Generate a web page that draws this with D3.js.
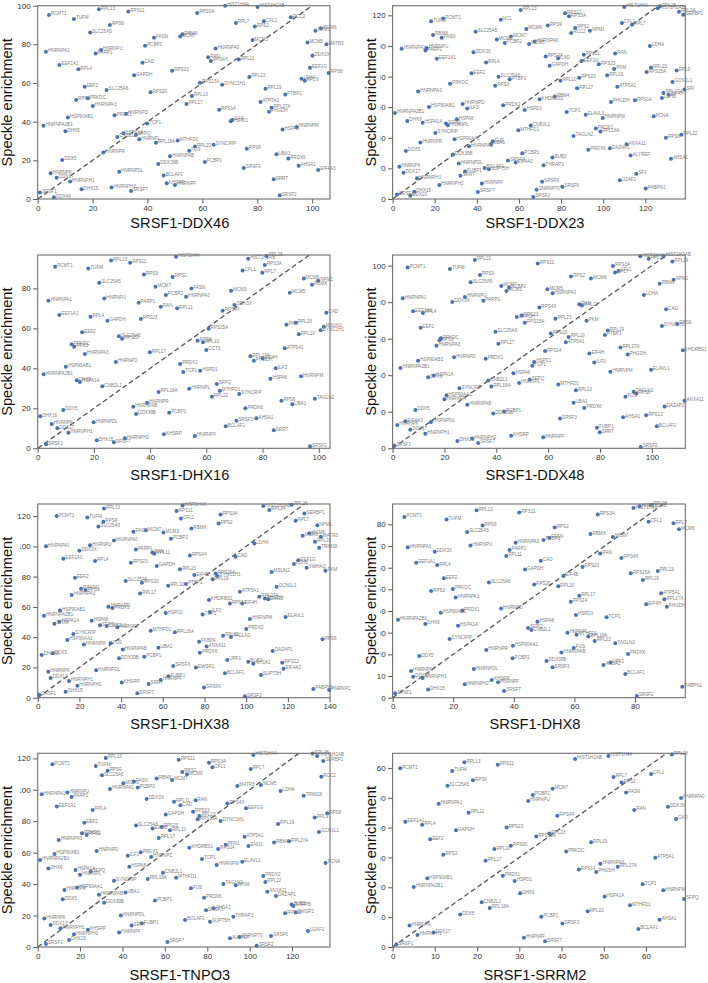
<!DOCTYPE html>
<html>
<head>
<meta charset="utf-8">
<script src="https://cdn.jsdelivr.net/npm/d3@7"></script>
<style>
  body { margin: 0; background: #fff; }
  svg { display: block; }
  text { font-family: "Liberation Sans", Arial, sans-serif; }
</style>
</head>
<body>
<div id="chart"></div>
<script>

// panel titles and axis limits
const panelTitles = ["SRSF1-DDX46", "SRSF1-DDX23", "SRSF1-DHX16", "SRSF1-DDX48",
                     "SRSF1-DHX38", "SRSF1-DHX8", "SRSF1-TNPO3", "SRSF1-SRRM2"];
const xMax = [106.5, 139, 104, 112.9, 140.2, 96.6, 137.9, 69.3];
const yMax = [100, 126.3, 96.7, 105.8, 128, 89.4, 123.2, 64.9];
const xTickStep = [20, 20, 20, 20, 20, 20, 20, 10];
const yTickStep = [20, 20, 20, 20, 20, 10, 20, 10];

// [protein, x enrichment, speckle enrichment]
const ddx46 = [["PCMT1",4.1,95.2],["RPL13",22.3,98.1],["RPS11",33,97],["HIST1H4A",68.3,100],["HIST1H2AB",80.1,99.3],["TUFM",13.2,93.1],["RPS9",26.3,90],["RPS3A",58.1,96.2],["RPL7",72.2,91],["CFL1",82.4,92],["RPS2",79.1,89.3],["RCC2",92.2,94],["SLC25A5",19.1,86.2],["NPM1",101.2,87],["MCM6",103.2,88.3],["FASN",42.4,83.4],["RBMX",52.8,85.2],["MCM7",51.9,84.1],["MCM3",78.3,82.2],["MCM5",98.3,81],["MATR3",105.2,80],["HNRNPA1",3,76.2],["HNRNPU",23.1,77.1],["PARP1",21.1,75.3],["PCBP2",39.1,79.3],["HNRNPA0",64.8,77.9],["DDX3X",100.1,74.1],["RAN",62.1,73.3],["RPS4X",63.1,71.4],["RPL11",73.3,72.2],["EEF1A1",7.9,69.3],["CAD",38.2,70.5],["RPL4",14.8,67.1],["EEF1G",99.2,67.9],["RPS8",106,65.2],["GAPDH",35.1,64],["RPS23",49,66.4],["RPL23",77.1,63.1],["LDHA",96.1,62.2],["RPL9",97.3,61.2],["EEF2",17.1,58.1],["RPS15A",59.1,60.2],["DYNC1H1",67.2,59.1],["SLC25A6",25.1,56.4],["RPS20",41.1,55.2],["RPL19",83,57.1],["RPS3",14,51.2],["PRKDC",18.2,52.1],["RPL10",56.2,53.3],["PTBP1",90.2,54],["HNRNPA3",20.1,48.1],["RPL17",54.2,49.1],["ATP5A1",81.2,50.2],["RPL27A",85.2,47.2],["PHGDH",84.3,45.2],["RPS14",66.1,46.2],["PRDX1",28,43.3],["HNRNPD",32.2,44.1],["HSP90AB1",11,42.2],["TCP1",39.9,39.1],["ILF3",70.9,40.9],["HSPD1",70.3,40.2],["HNRNPA2B1",2.1,37.9],["DHX9",10.1,35],["HSPA8",89.2,36],["HNRNPM",94.3,37.2],["HSPA1A",31.2,34],["CNB2L1",29,32.1],["SFPQ",35.8,33.1],["HNRNPL",37,30.9],["RPL18A",43.1,29.1],["MTHFD1",51,30.3],["RPL22",57.3,27.1],["SYNCRIP",64.1,28.1],["FUS",55.2,25],["RPS6",76.2,26],["HNRNPR",23.9,24.1],["HNRNPAB",48.2,22.1],["UBA1",87,23.1],["PRDX6",91.3,21],["DDX5",8.9,20.2],["DDX39B",43.9,18.1],["PCBP1",60.9,19.1],["SRSF3",75.1,16],["AHSA1",95.1,17.2],["EIF4A3",102.2,15],["HNRNPK",4.7,13.3],["DDX17",6.9,11],["HNRNPH1",11.8,9],["HNRNPDL",29.7,14.1],["BCLAF1",45.9,12.1],["KHSRP",47,8.1],["HNRNPF",50,7.2],["SRRT",86,10.2],["DHX15",16,5],["HNRNPH2",26.9,6],["SRSF7",34,4.1],["SRSF1",0.8,3.3],["DDX46",5.9,0.9],["SRSF2",88.2,1.9]];

const ddx23 = [["RPL13",60.8,123.5],["HIST1H4A",110,125.4],["RPL28",127,126],["HIST1H2AB",125.9,124.6],["RPL24",136,122.4],["SERBP1",138,120.4],["TUFM",18.3,116.1],["PCMT1",24,118],["NCL",51.4,117.2],["RPS11",81.9,121.3],["RPS3A",83.8,119.4],["CFL1",108.9,115],["RPL7",113.7,113.9],["SLC25A5",39.4,109.2],["MCM6",63.5,111.1],["RPS9",73.7,113.3],["RPS2",86.7,111.8],["RCC2",84.8,108.5],["NPM1",93.7,110],["RBMX",19.2,107.2],["FASN",23.3,105.3],["MCM7",56.2,106.1],["MCM3",49.5,104.2],["PCBP2",53.3,102],["MCM5",64.8,101.3],["HNRNPA0",67.5,102.9],["HNRNPA1",4.3,98.1],["HNRNPU",16.2,98.7],["PARP1",15.6,97],["LDHA",122.2,100],["DDX3X",38.4,95.9],["RPS4X",72.7,93.1],["CAD",78.6,92],["RPL11",90.8,94.2],["EEF1G",89.7,90.1],["RAN",105.7,95],["EEF1A1",21,91.6],["RPL4",44.4,89.2],["GAPDH",74.6,87],["RPS23",97.9,88.1],["PKM",105.2,84.9],["RPL23",122.7,85.9],["RPS15A",120.6,82.9],["RPL9",134.9,84],["EEF2",37.5,82.2],["SLC25A6",50.3,79.9],["PTBP1",55.6,78.3],["RPS20",88.6,79.2],["RPL10",79.7,77.3],["RPL19",101.9,80.9],["GCN1L1",132.9,76.4],["PRKDC",27.3,75.3],["RPS3",48.7,74],["RPL17",87.6,72.3],["ATP5A1",106.7,73.4],["HNRNPA3",12.1,70.3],["SRI",138.6,71.6],["RPL27A",128.6,69.2],["EIF4H",131,68.1],["LDHB",127.9,66],["RBM4",77,67],["KHDRBS1",69.8,65.1],["RPS14",115.1,64.5],["PHGDH",103.7,63.4],["HSP90AB1",17.3,60.1],["HNRNPD",33.3,62.1],["ILF3",35.4,59.2],["PRDX1",52.5,61.2],["HSPD1",62.7,58.2],["TCP1",82.7,56.9],["HNRNPA2B1",1.1,56.2],["ELAVL1",91.7,55.1],["PCNA",124,54],["HNRNPM",99.8,53],["DHX9",7,51],["HSPA1A",14.3,49.9],["HSPA8",30.5,52.1],["HNRNPL",26.2,48.2],["SFPQ",25.4,49.3],["CNB2L1",65.6,48],["MTHFD1",59.7,44.9],["PRDX2",96.5,46],["RPL18A",98.7,44.1],["TAGLN2",85.9,41.2],["RPS6",129.8,40.1],["RPL22",137.1,41.9],["SYNCRIP",20.3,43.2],["HNRNPR",13.2,36.9],["HSP90AA1",29.4,39.1],["FUS",47.6,37.8],["UBA1",46.8,35.9],["HNRNPAB",36.3,34.5],["DDX5",6.3,31.3],["DDX39B",28.6,29.1],["PCBP1",61.6,29.9],["PRDX6",92.9,32.1],["DAZAP1",103.2,33.2],["ANXA11",111.1,35.8],["SRSF3",54.8,25.2],["EIF4A3",58.4,23.9],["BUB3",75.9,27.1],["THRAP3",71.7,22.1],["ALYREF",113,28.4],["AHSA1",132.2,26.3],["HNRNPK",3.2,21],["DDX17",5.2,17.1],["HNRNPH1",11.6,13.5],["HNRNPDL",31.4,23.2],["FUBP1",34.4,18],["SRRT",32.2,15.2],["BCLAF1",43.7,20.2],["SUPT5H",45.7,19.5],["SF1",115.7,16.5],["U2AF2",107.9,12.2],["HNRNPH2",22.2,9.1],["HNRNPF",42.4,10.2],["SRSF9",71,11.3],["SNRNP70",68.4,6.1],["SRSF6",80.6,8],["PABPN1",120.2,6.9],["SRSF7",40.5,4.6],["SRSF2",66.8,1.3],["SRSF1",2.1,3],["DHX15",10.3,4.8],["DDX23",8.4,2.2]];

const dhx16 = [["PCMT1",6.2,90.8],["RPL13",26.1,94],["RPS11",32.9,92.8],["HIST1H4A",49.2,95.8],["HIST1H2AB",74.9,94.8],["RPL28",81.4,96.2],["RPS3A",80.8,91.7],["TUFM",18,90],["RPS9",37.8,87],["RPS2",48,85.7],["CFL1",72.9,89],["RPL7",79.9,87.8],["MCM6",94.7,85],["NPM1",99.8,83.8],["RBMX",97.6,81.8],["SLC25A5",21.9,82.8],["MCM7",41.9,80.8],["FASN",54.7,80],["HNRNPA1",3.8,73.8],["HNRNPU",23.7,75],["PCBP2",45.6,76.7],["HNRNPA0",52.8,75.8],["MCM3",68.8,78.8],["MCM5",89.7,77.8],["PARP1",35.9,72.8],["RAN",43.8,70.8],["RPL11",49.6,70],["DDX3X",70,71.7],["RPS4X",65.8,68.8],["EEF1A1",7.7,66.7],["RPL4",18.8,65.8],["GAPDH",24.8,63.8],["RPS23",36.7,64.7],["CAD",102.7,67.8],["PKM",88.5,61.8],["RPL23",91.8,62.8],["MSUN2",101.8,60.8],["DYNC1H1",100.7,59],["RPL19",92.9,57],["RPS15A",60.8,59.8],["EEF2",15.8,58],["SLC25A6",28.9,56],["RPS20",30,54.8],["RPS8",56.9,53.8],["RPL10",58.8,53],["CCT3",60,49.2],["ATP5A1",87.9,50],["PRKDC",12.1,52],["RPS3",13,50.8],["HNRNPA3",16.8,47.2],["RPL17",39.9,48],["RPL27A",75.7,46],["EIF4H",80,45],["PHGDH",76.9,43.8],["HSP90AB1",10,40.8],["HNRNPD",27.8,43.2],["PRDX1",50.7,42.2],["TCP1",51.8,38.2],["HSPD1",57.8,38.8],["ILF3",84.7,40],["HNRNPM",93.7,36],["HNRNPA2B1",2.1,37],["DHX9",13.9,34],["HSPA1A",15,33.2],["CNB2L1",23,31],["HSPA8",82.8,34.8],["SFPQ",63.7,32.2],["HNRNPL",53.9,29.8],["MTHFD1",64.8,28.8],["SYNCRIP",71.7,27.2],["RPL18A",43,28.2],["RPL22",62,25.8],["HNRNPR",38.9,22.8],["HNRNPAB",34,20.8],["RPS6",86.7,23.8],["UBA1",90.6,22],["TAGLN2",98.6,24.8],["PRDX6",73.9,20],["DHX16",0.9,16],["DDX5",9.1,19.2],["DDX39B",35,17.2],["PCBP1",46.8,17.8],["SRSF3",70.7,13.8],["AHSA1",77.8,15],["HNRNPK",5,12.2],["DDX17",7,10],["HNRNPH1",10.9,7.8],["HNRNPDL",19.9,13],["BCLAF1",66.9,11],["SRRT",84,9],["KHSRP",44.9,7],["HNRNPF",55.9,6.2],["DHX15",21,4],["SRSF7",27.1,3],["HNRNPH2",31,5],["SRSF1",3,2],["SRSF2",96.9,1]];

const ddx48 = [["PCMT1",5.8,98.9],["RPL13",31.7,103.1],["RPS11",56,101.1],["HIST1H4A",95.5,105.1],["RPL28",98.8,103.8],["HIST1H2AB",104.6,105.3],["RPL24",107.9,102.2],["TUFM",22.1,98.2],["RPS9",33.7,94.9],["SLC25A5",30.1,90.9],["RPS2",68.8,94.1],["MCM6",76.5,93],["RPS3A",85,99.8],["CFL1",87.1,97.1],["RPL7",85.8,96.2],["RBMX",103,90.1],["NPM1",108.4,92.3],["MCM7",41.9,88.8],["PCBP2",44.9,87.9],["MCM3",43.9,86.1],["MCM5",59.7,87],["HNRNPA0",61.7,84.8],["LDHA",96.9,83.9],["HNRNPA1",3.9,82.1],["HNRNPU",27.9,82.8],["DDX3X",23,80.1],["PARP1",35,80.8],["RPS4X",56.6,77],["RAN",72,78.8],["RPL11",73,78.1],["CAD",105.5,76.1],["EEF1A1",7.9,75],["RPL4",11.7,74],["RPS23",49.8,72.8],["GAPDH",47.9,71.8],["RPL23",62.8,70.9],["RPS15A",51,68.7],["PKM",74.8,69.8],["DYNC1H1",103.9,66.9],["RPS8",109.8,68],["EEF2",10.8,66],["RPL19",83,64.5],["PTBP1",81.9,62],["SLC25A6",39.7,63.8],["RPS20",61,62.9],["RPL10",67.9,60.9],["ATP5A1",66.8,58],["PRKDC",18.6,60.3],["RPS3",18.1,59.2],["HNRNPA3",16.9,56.1],["RPL17",40.8,57.2],["RPL27A",87.9,55.2],["KHDRBS1",112,53.7],["HSP90AB1",9.8,47.9],["HNRNPD",23.7,49.9],["PRDX1",35.9,49],["RPS14",58.8,53.2],["EIF4H",75.9,51.9],["PHGDH",90.7,51.4],["ILF3",77.8,47],["HNRNPA2B1",3,43.9],["HSPD1",54.6,47.2],["TCP1",53.9,45.2],["HSPA8",46.6,41.1],["HNRNPM",84,41.9],["ELAVL1",99.7,43],["DHX9",13.7,38.9],["HSPA1A",15.9,39.9],["SFPQ",52.9,37.7],["HNRNPL",48.8,35.8],["CNB2L1",36.9,37.1],["RPL18A",38.1,33.8],["MTHFD1",63.9,34.9],["SYNCRIP",25.8,32.9],["RPL22",70.7,31.8],["TAGLN2",93,30.9],["RPS6",94,30],["FUS",89.8,28.2],["ANXA11",112.6,26],["HSP90AA1",20.8,29.1],["HNRNPR",20,26.9],["HNRNPAB",28.8,23.8],["UBA1",69.8,24.9],["PRDX6",73.9,22.1],["DAZAP1",104.9,22.9],["DDX5",8.8,21],["DDX39B",38.8,19],["PCBP1",43,20.1],["SRSF3",64.6,16.3],["AHSA1",88.9,17],["RPS12",97.8,18.1],["BCLAF1",101.9,12.1],["HNRNPK",1.8,12.8],["EIF4A3",4.9,14.8],["HNRNPDL",14.8,14.4],["DDX17",6.8,10.1],["HNRNPH1",12.6,8],["FUBP1",78.8,11.2],["SRRT",79.9,8.8],["KHSRP",45.7,6.9],["HNRNPF",58.1,6],["DHX15",25,4],["HNRNPH2",30.7,5.3],["SRSF7",33,2.9],["SRSF1",0.6,1.6],["SRSF2",95.7,0.7]];

const dhx38 = [["PCMT1",9.1,120],["RPL13",31.8,125],["TUFM",23.8,119.1],["RPS9",31.5,116.2],["SLC25A5",29.1,113.2],["HIST1H4A",69.5,127],["RPS11",66.6,123.3],["CFL1",68.7,118.4],["RPS3A",87.7,121.1],["RPS2",86.8,115.1],["RBMX",73.7,111.8],["MCM7",51.9,110.7],["FASN",45.9,109.6],["MCM3",60.3,109.2],["PCBP2",63.9,105],["HNRNPA0",36.6,103.9],["HIST1H2AB",108.2,126.6],["RPL28",121.8,127.5],["RPL24",111.1,124],["SERBP1",127.9,121.8],["RPL7",123.7,116.9],["NPM1",134.1,114],["MCM5",127.1,107],["MCM6",130.3,108.6],["MATR3",135.8,106.3],["RPL21",133,103],["TRIM28",135,99.1],["LDHA",103.9,101.9],["HNRNPA1",4,100],["HNRNPU",25.1,100.8],["DDX3X",20,97.1],["PARP1",47.1,98],["RAN",55,96],["RPL11",55.9,95.1],["RPS4X",73,94],["CAD",94.9,93.1],["EEF1A1",12.3,91.8],["RPL4",27.5,90.3],["RPS23",44.7,89.2],["GAPDH",57.1,87],["RPL23",68.2,84.8],["EEF1G",125,90.9],["LDHB",122.9,88.3],["YWHAQ",129,85.9],["PKM",138,83.9],["EEF2",17.9,79.3],["MSUN2",112.2,83],["EIF4B",75.1,81],["RPS15A",85.3,82.1],["DYNC1H1",86.1,80.4],["RPL19",83.9,78.2],["SLC25A6",42.2,77.1],["RPS20",50,76],["RPL10",62.6,74],["PTBP1",71.1,75.1],["GCN1L1",114.6,73.3],["PRKDC",20.8,72],["RPS3",22.9,71.1],["HNRNPA3",16.3,67.8],["RPL17",49.1,68.9],["ATP5A1",97,70],["KHDRBS1",82.1,64.5],["RPS14",92.2,62.3],["EIF4H",98.1,62.3],["RPL27A",106.3,66.7],["PHGDH",109,65.6],["ENO1",110.6,65],["HNRNPD",33.9,60.1],["PRDX1",35.8,59.2],["HSP90AB1",10.7,57.7],["HSPD1",61.4,55.9],["TCP1",79.1,55],["ILF3",82.6,56.6],["HNRNPM",101.8,52],["ELAVL1",118.9,53.3],["HNRNPA2B1",3,54.2],["DHX9",8,48.9],["HSPA1A",10.4,50.2],["HSPA8",25.9,50.9],["SFPQ",29.9,47.8],["CNB2L1",33.1,47.3],["HNRNPL",38.2,46.5],["MTHFD1",54.2,44.3],["RPL18A",65.8,43.2],["PRDX2",100,45.4],["SYNCRIP",17.1,42.1],["HSP90AA1",14.2,38.1],["HNRNPR",22.2,35.2],["FUS",35,35.9],["FKBP4",77.4,37],["RPL22",88.9,41],["TAGLN2",92.7,40.1],["ANXA11",81,33.9],["RPS6",136.6,38.7],["DHX38",1.9,28.2],["DDX5",7.2,29.3],["HNRNPAB",40.8,31.9],["UBA1",57.9,33],["PRDX6",77.8,29.7],["DAZAP1",112.7,30.8],["DDX39B",39,26],["PCBP1",51.1,27.1],["SRSF3",65,20.9],["EWSR1",75.9,20],["UPF1",90.9,24.9],["BUB3",101,23.8],["AHSA1",103.4,22.5],["RPS12",117.3,23.1],["EIF4A3",117.9,19.2],["HNRNPK",5.1,17.2],["HNRNPDL",28,18.1],["DDX17",6.2,13],["BCLAF1",89.8,16.1],["SUPT5H",107.1,15],["HNRNPH1",15,11],["FUBP1",62.7,14.1],["HNRNPF",59,11.7],["SRRT",53.2,9],["KHSRP",40.3,10.1],["HNRNPH2",19,7.9],["DHX15",13.4,4],["SRSF6",79.8,6.8],["SRSF7",47.8,2.9],["SRSF1",0.8,2],["SRSF2",99.4,0.9],["PABPN1",132.2,5.7],["HNRNPC",139.8,5.1]];

const dhx8 = [["PCMT1",3.9,83.4],["RPL13",27.7,86.5],["RPS11",41.8,85.5],["RPS3A",67.7,84.6],["HIST1H4A",79.5,87.5],["HIST1H2AB",81.5,88.4],["RPL28",85.3,89],["TUFM",17.8,82.3],["CFL1",84.5,81.2],["RPL7",92.7,80.5],["MCM6",94.5,77.7],["RPS9",29.7,79.5],["SLC25A5",24.6,76.5],["RPS2",53.5,78.6],["RBMX",65.3,75.5],["MCM7",72.7,74.2],["FASN",51.7,73.8],["PCBP2",49.8,72.8],["HNRNPA0",40.6,71.5],["HNRNPA1",5,69.4],["HNRNPU",25.7,70.3],["PARP1",38.6,68.2],["DDX3X",13.9,67.4],["RAN",68.5,66.5],["RPL11",37.5,65.4],["RPS4X",75.5,64.5],["CAD",48.9,63.2],["EEF1A1",7.8,62.3],["RPL4",14.7,61.2],["GAPDH",43.7,59.2],["RPS23",62.7,60.3],["RPL23",87.5,58.5],["RPS15A",78.6,57.4],["EIF4B",56.4,56.2],["EEF2",16.9,55.1],["RPL19",82.6,54.3],["SLC25A6",31.8,53.2],["RPS20",46.7,52.3],["RPL10",54.7,51.4],["RPS3",12.7,49.2],["PRKDC",19.9,50.2],["ATP5A1",88.6,48.2],["RPL17",61.6,47.1],["HNRNPA3",20.8,46.3],["RPL27A",89.7,45.4],["RPS14",58.8,44.3],["EIF4H",83.7,43.1],["PHGDH",90.5,42],["HNRNPD",35.8,41.2],["PRDX1",23,40.2],["HSP90AB1",15.9,39.2],["HSPD1",60.5,38.2],["TCP1",70.6,37.1],["HNRNPA2B1",1.8,36],["HSPA8",47.8,35.1],["DHX9",10.8,34],["HSPA1A",21.6,33.2],["SFPQ",44.7,32.2],["CNB2L1",45.8,31.2],["HNRNPL",57.7,30],["MTHFD1",60.7,29.1],["RPL18A",64.6,28.2],["RPL22",66.7,26.2],["SYNCRIP",18.8,27.1],["TAGLN2",73.5,25.1],["HSP90AA1",39.7,24],["FUS",59.8,22.9],["HNRNPAB",55.7,20.9],["HNRNPR",30.9,22],["DDX5",8.8,19.2],["PRDX6",77.7,20.2],["PCBP1",39.6,18.2],["DDX39B",50.8,16.9],["SRSF3",52.8,14],["AHSA1",69.6,15.1],["UPF1",71.9,16.2],["BCLAF1",76.8,10.9],["HNRNPK",6.1,12.3],["DDX17",6.8,9.7],["HNRNPH1",9.9,9.1],["HNRNPDL",26.8,13.2],["HNRNPH2",23.8,6.2],["KHSRP",32.7,8.2],["HNRNPF",34.8,7.1],["DHX15",11.7,3.8],["SRSF7",36.8,3.1],["SRSF1",0.8,2],["SRSF2",80.6,0.8],["PABPN1",95.6,5.1]];

const tnpo3 = [["PCMT1",6.9,116.2],["RPL13",32.1,120.2],["TUFM",27.4,115.1],["RPS9",33,112.1],["SLC25A5",30.3,109.2],["RPS11",66.5,119.1],["RPS3A",80.8,117.2],["CFL1",82.4,114.3],["HIST1H4A",101.7,122.1],["RPL28",129.7,123],["HIST1H2AB",131.8,121.5],["SERBP1",134.7,118.3],["RPS2",68.2,111.3],["MCM6",70.4,109.8],["RPL7",100.5,113.2],["RCC2",133.8,108.3],["RBMX",56.1,107.1],["MCM7",63.4,106.2],["FASN",45.3,105.2],["MCM3",40.4,104.1],["PCBP2",47.2,101.5],["HNRNPA0",34.1,100.5],["MATR3",94.2,102.4],["MCM5",105.3,103],["LDHA",114.6,99.2],["TRIM28",125.5,96.2],["HNRNPA1",1.9,97.1],["HNRNPU",14,98.2],["PARP1",16,95.4],["DDX3X",51.4,94.1],["RAN",74.5,93.3],["RPL11",64.3,92.4],["CAD",67.3,90.1],["RPS4X",89.5,91.2],["EEF1G",98.3,88.2],["EEF1A1",9,89.3],["RPL4",25.9,87.1],["RPS23",73.3,86.1],["GAPDH",60.4,84.2],["RPL23",76.3,83.3],["RPS15A",75.5,81.2],["DYNC1H1",86.3,80.1],["RPL9",130.7,82.3],["RPS8",136.6,85],["EEF2",22,79.1],["RPL19",113.4,78.2],["SLC25A6",46.4,77.2],["RPS20",58.5,76.3],["EIF4B",54.2,75.3],["RPL10",62.4,74.2],["PRKDC",20.9,72.3],["RPS3",23.1,71.2],["GCN1L1",132.7,73.1],["RPL17",57.1,69.3],["ATP5A1",97.6,70.2],["PFN1",88.7,65.1],["RPS14",85.1,62.3],["ENO1",99.4,64.2],["RBM4",111.5,66.4],["RPL27A",118.6,67.2],["HNRNPA3",9.9,68.1],["KHDRBS1",71.5,63.2],["HNRNPD",27.8,61.1],["PRDX1",48.6,60.2],["ILF3",42.5,58.1],["HNRNPC",53.5,57.2],["HSP90AB1",7.9,59.1],["HNRNPA2B1",1.1,55.3],["TCP1",77.5,56],["HNRNPM",84.4,52.2],["ELAVL1",96.5,54.3],["PCNA",135.8,53.4],["DHX9",5,50],["HSPA1A",17.8,49],["SFPQ",25,48.1],["HNRNPL",20,46],["HSPA8",43.2,51.1],["CNB2L1",59.1,47.3],["MTHFD1",65.3,44.1],["RPL18A",51.9,43.2],["SYNCRIP",36,42.2],["PRDX2",106.4,45.2],["RPL22",107.4,41.3],["TAGLN2",87.6,40.1],["RPS6",93.4,39.2],["HNRNPR",12.6,36.3],["HSP90AA1",18.6,37.9],["FUS",72.3,37.3],["ANXA11",108.3,35.2],["DAZAP1",112.4,32.4],["HNRNPAB",28.9,33.3],["UBA1",41.4,34.6],["DDX5",11.8,30.3],["DDX39B",31.3,28.2],["PCBP1",55.3,29.5],["PRDX6",78.5,31.4],["SRSF3",79.4,23.3],["AHSA1",83,24.6],["BUB3",119.8,27.1],["SNRPB",120.6,26.1],["EWSR1",121.7,22],["RPS12",116.7,21.4],["HNRNPDL",39.2,20.1],["HNRNPK",3.1,18.2],["BCLAF1",69.5,17.2],["SUPT5H",81.3,16.1],["THRAP3",92.3,19.3],["DDX17",6.1,14],["HNRNPH1",10.8,11.9],["FUBP1",49.1,15.1],["SRRT",44.3,13.6],["KHSRP",23.7,11],["HNRNPH2",17.1,8.1],["HNRNPF",38.4,9.3],["DHX15",14.8,4.5],["ALYREF",90.7,5.5],["SNRNP70",95.1,6.4],["SRSF6",110.1,7],["U2AF1",127.5,10.2],["SRSF7",61.2,3.2],["SRSF1",3.9,1.9],["SRSF2",103.3,0.8]];

const srrm2 = [["PCMT1",1.8,59.9],["RPL13",17,61.9],["TUFM",14.1,59],["RPS11",24.9,61.1],["SLC25A5",13,54],["RPS9",19,55.9],["HIST1H2AB",43.2,63],["HIST1H4A",51.1,64],["RPL28",66.1,64.5],["RPL7",52.3,57],["RPS2",54.2,55.1],["CFL1",61.2,58],["MCM7",37.9,53],["PCBP2",33.2,50.9],["HNRNPU",32.1,48.9],["FASN",55.3,51.8],["HNRNPA0",68.3,49.9],["DDX3X",65.2,47],["HNRNPA1",10.9,48],["RPL11",18,45],["RPS4X",39,44],["RAN",57.2,45.9],["CAD",67.1,42.9],["EEF1A1",3,42],["RPL4",7,41],["GAPDH",15,39.1],["RPS23",27,40],["RPS15A",34,37],["RPL23",37.1,38],["EEF2",8.9,36.1],["RPL19",47,35.1],["RPL10",24.1,32.8],["RPS20",28,33.9],["RPS3",12,30.9],["PRKDC",41.1,32],["RPL17",22,28.9],["ATP5A1",62.2,29.9],["HNRNPA3",49.2,27.9],["RPL27A",53.3,26.9],["RPS14",44.1,26],["PHGDH",48.2,25.1],["HSP90AB1",8.2,23],["PRDX1",26.1,23.9],["HSPD1",28.9,22.1],["HNRNPA2B1",5,20.1],["TCP1",59.2,21],["HNRNPM",64.1,19],["DHX9",30.2,18],["SFPQ",69,16.1],["HSPA1A",50.2,16.9],["CNB2L1",21.1,15],["RPL18A",23,13.1],["MTHFD1",56.2,14],["RPL22",46.2,12],["DDX5",16,10.9],["PCBP1",35.2,10.1],["SRSF3",40.2,7.9],["AHSA1",63.2,9.1],["BCLAF1",58.2,6],["HNRNPK",4,7.2],["DDX17",9.7,4.9],["HNRNPH1",5.9,4],["HNRNPF",31.1,3.1],["SRSF7",36.1,1.9],["SRSF1",0.9,0.9]];

const panelData = [ddx46, ddx23, dhx16, ddx48, dhx38, dhx8, tnpo3, srrm2];

// layout of the 4x2 grid
const colX = [[37.7, 330], [392.6, 685.3]];
const rowY = [[5.7, 199], [255, 448.3], [504, 697.7], [753.3, 947]];
const titleBase = [228, 480, 729, 980];

const svg = d3.select("#chart").append("svg")
    .attr("width", 708)
    .attr("height", 983);

panelData.forEach((data, i) => {
    let col = i % 2, row = Math.floor(i / 2);
    let [x0, x1] = colX[col];
    let [y0, y1] = rowY[row];

    let x = d3.scaleLinear().domain([0, xMax[i]]).range([x0, x1]);
    let y = d3.scaleLinear().domain([0, yMax[i]]).range([y1, y0]);

    let g = svg.append("g").attr("class", "panel");

    // axes
    let xAxis = d3.axisBottom(x)
        .tickValues(d3.range(0, xMax[i] + 0.01, xTickStep[i]))
        .tickSize(4.5).tickPadding(1.5);
    let yAxis = d3.axisLeft(y)
        .tickValues(d3.range(0, yMax[i] + 0.01, yTickStep[i]))
        .tickSize(4.5).tickPadding(2.5);

    g.append("g").attr("transform", `translate(0,${y1})`).call(xAxis);
    g.append("g").attr("transform", `translate(${x0},0)`).call(yAxis);
    g.selectAll(".domain").remove();
    g.selectAll(".tick line").attr("stroke", "#444").attr("stroke-width", 0.9);
    g.selectAll(".tick text")
        .attr("fill", "#333")
        .style("font-size", "8px")
        .style("font-family", "'Liberation Sans', Arial, sans-serif");

    // y=x reference line
    let m = Math.min(xMax[i], yMax[i]);
    g.append("line")
        .attr("x1", x(0)).attr("y1", y(0))
        .attr("x2", x(m)).attr("y2", y(m))
        .attr("stroke", "#555")
        .attr("stroke-width", 1.3)
        .attr("stroke-dasharray", "5,3");

    // points
    g.selectAll(".dot")
        .data(data)
        .enter()
        .append("circle")
        .attr("class", "dot")
        .attr("cx", d => x(d[1]))
        .attr("cy", d => y(d[2]))
        .attr("r", 2)
        .attr("fill", "#4c72b0");

    // protein labels
    g.selectAll(".lbl")
        .data(data)
        .enter()
        .append("text")
        .attr("class", "lbl")
        .attr("x", d => x(d[1]) + 2)
        .attr("y", d => y(d[2]) + 0.4)
        .attr("fill", "#808080")
        .style("font-size", "4.6px")
        .text(d => d[0]);

    // frame
    g.append("rect")
        .attr("x", x0).attr("y", y0)
        .attr("width", x1 - x0).attr("height", y1 - y0)
        .attr("fill", "none")
        .attr("stroke", "#6e6e6e")
        .attr("stroke-width", 1.1);

    // x title
    g.append("text")
        .attr("x", (x0 + x1) / 2 - 4)
        .attr("y", titleBase[row])
        .attr("text-anchor", "middle")
        .attr("fill", "#111")
        .style("font-size", "14.6px")
        .text(panelTitles[i]);

    // y title with its white backing (it hides part of the tick labels)
    let cy = (y0 + y1) / 2;
    let tx = col === 0 ? 11.5 : 376;
    let boxL = col === 0 ? 0 : 350;
    let boxR = col === 0 ? 20 : 380.5;
    g.append("rect")
        .attr("x", boxL).attr("y", cy - 72)
        .attr("width", boxR - boxL).attr("height", 144)
        .attr("fill", "#fff");
    g.append("text")
        .attr("transform", `translate(${tx},${cy}) rotate(-90)`)
        .attr("text-anchor", "middle")
        .attr("fill", "#111")
        .style("font-size", "14.6px")
        .text("Speckle enrichment");
});

</script>
</body>
</html>
